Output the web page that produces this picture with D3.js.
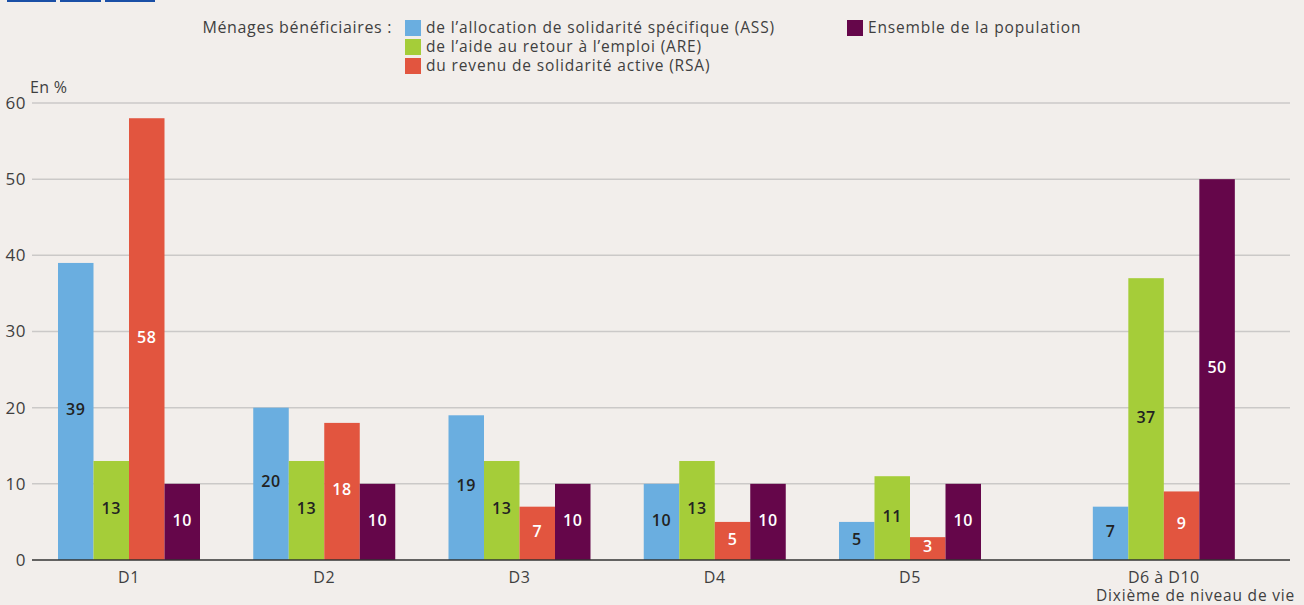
<!DOCTYPE html>
<html>
<head>
<meta charset="utf-8">
<script src="https://cdn.jsdelivr.net/npm/d3@7"></script>
<style>
  html, body { margin: 0; padding: 0; background: #f2eeeb; }
  svg { display: block; font-family: "Open Sans", sans-serif; }
</style>
</head>
<body>
<svg id="chart" width="1304" height="605"></svg>
<script>
"use strict";

const deciles = ["D1", "D2", "D3", "D4", "D5", "D6 à D10"];
const seriesNames = ["ASS", "ARE", "RSA", "Pop"];
const assValues = [39, 20, 19, 10, 5, 7];
const areValues = [13, 13, 13, 13, 11, 37];
const rsaValues = [58, 18, 7, 5, 3, 9];
const popValues = [10, 10, 10, 10, 10, 50];
const yTicks = [0, 10, 20, 30, 40, 50, 60];
const legendLabels = [
    "de l\u2019allocation de solidarité spécifique (ASS)",
    "de l\u2019aide au retour à l\u2019emploi (ARE)",
    "du revenu de solidarité active (RSA)",
    "Ensemble de la population"
];

const colors = ["#6aaee0", "#a5cd39", "#e2553f", "#65064a"];
const labelColors = ["#222", "#222", "#fff", "#fff"];
const valuesBySeries = [assValues, areValues, rsaValues, popValues];
const textColor = "#3f3f3f";

const svg = d3.select("#chart");

// blue boxes of the cropped header
svg.append("g").selectAll("rect")
    .data([[7, 49], [60, 41], [105, 50]])
    .join("rect")
    .attr("x", d => d[0]).attr("y", 0)
    .attr("width", d => d[1]).attr("height", 2)
    .attr("fill", "#1a4fa6");

const y = d3.scaleLinear().domain([0, 60]).range([560, 103]);

// group centres: D1..D5 evenly spaced, last group pushed a bit further
const lastGap = 0.3;
const gx = d3.scaleLinear().domain([0, 4]).range([129, 910]);
const groupX = (i) => gx(i === deciles.length - 1 ? i + lastGap : i);
const inner = d3.scaleBand().domain(seriesNames).range([-71, 71]).padding(0);

// grid
svg.append("g").selectAll("line")
    .data(yTicks.filter(t => t > 0))
    .join("line")
    .attr("x1", 32).attr("x2", 1290)
    .attr("y1", d => y(d)).attr("y2", d => y(d))
    .attr("stroke", "#cbc9c8").attr("stroke-width", 1.5);

svg.append("g").selectAll("text")
    .data(yTicks)
    .join("text")
    .attr("x", 26).attr("y", d => y(d))
    .attr("dy", "0.35em")
    .attr("text-anchor", "end")
    .attr("font-size", 17)
    .attr("letter-spacing", 0.5)
    .attr("fill", textColor)
    .text(d => d);

svg.append("text")
    .attr("x", 30).attr("y", 93)
    .attr("font-size", 16).attr("letter-spacing", 0.3).attr("fill", textColor)
    .text("En %");

// bars
const cells = [];
deciles.forEach((dec, i) => {
    seriesNames.forEach((s, j) => {
        cells.push({ i: i, j: j, s: s, v: valuesBySeries[j][i] });
    });
});

const bars = svg.append("g");
bars.selectAll("rect")
    .data(cells)
    .join("rect")
    .attr("x", d => groupX(d.i) + inner(d.s))
    .attr("y", d => y(d.v))
    .attr("width", inner.bandwidth())
    .attr("height", d => y(0) - y(d.v))
    .attr("fill", d => colors[d.j]);

bars.selectAll("text")
    .data(cells)
    .join("text")
    .attr("x", d => groupX(d.i) + inner(d.s) + inner.bandwidth() / 2)
    .attr("y", d => Math.min((y(d.v) + y(0)) / 2, 548) - 2)
    .attr("dy", "0.35em")
    .attr("text-anchor", "middle")
    .attr("font-size", 16)
    .attr("font-weight", 600)
    .attr("letter-spacing", 0.5)
    .attr("fill", d => labelColors[d.j])
    .text(d => d.v);

// baseline
svg.append("line")
    .attr("x1", 32).attr("x2", 1290)
    .attr("y1", y(0)).attr("y2", y(0))
    .attr("stroke", "#333").attr("stroke-width", 1.5);

svg.append("g").selectAll("text")
    .data(deciles)
    .join("text")
    .attr("x", (d, i) => groupX(i))
    .attr("y", 583)
    .attr("text-anchor", "middle")
    .attr("font-size", 16)
    .attr("letter-spacing", 0.5)
    .attr("fill", textColor)
    .text(d => d);

svg.append("text")
    .attr("x", 1295).attr("y", 601)
    .attr("text-anchor", "end")
    .attr("font-size", 15.5)
    .attr("letter-spacing", 0.8)
    .attr("fill", textColor)
    .text("Dixième de niveau de vie");

// legend
const legend = svg.append("g");
legend.append("text")
    .attr("x", 392).attr("y", 33)
    .attr("text-anchor", "end")
    .attr("font-size", 16).attr("letter-spacing", 0.65).attr("fill", textColor)
    .text("Ménages bénéficiaires :");

const legendPos = [[405, 20], [405, 39], [405, 58], [847, 20]];
const items = legend.selectAll("g.item")
    .data(legendLabels)
    .join("g")
    .attr("class", "item")
    .attr("transform", (d, i) => `translate(${legendPos[i][0]}, ${legendPos[i][1]})`);
items.append("rect")
    .attr("width", 16).attr("height", 16)
    .attr("fill", (d, i) => colors[i]);
items.append("text")
    .attr("x", 21).attr("y", 13)
    .attr("font-size", 15.5)
    .attr("letter-spacing", 0.85)
    .attr("fill", textColor)
    .text(d => d);
</script>
</body>
</html>
